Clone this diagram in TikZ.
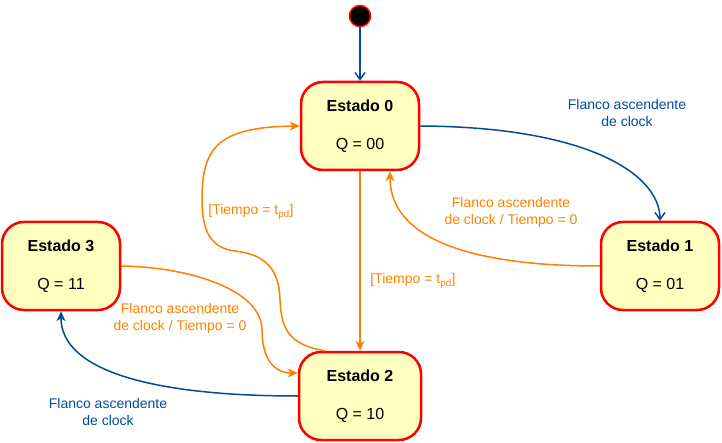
\documentclass[tikz,border=0pt]{standalone}
\usepackage{fontspec}
\setsansfont{Liberation Sans}
\usepackage{tikz}
\usetikzlibrary{positioning, arrows.meta}
\definecolor{stBlue}{RGB}{0, 76, 153}
\definecolor{stOrange}{RGB}{255, 128, 0}
\definecolor{stRed}{RGB}{255, 0, 0}
\definecolor{stYellow}{RGB}{255, 255, 192}
\tikzset{
    base/.style={
        font=\sffamily,
        align=center
    },
    stateBox/.style={
        base,
        rectangle,
        rounded corners=22pt,
        draw=stRed,
        line width=2.5pt,
        fill=stYellow,
        text=black,
        minimum width=118pt,
        minimum height=88pt,
        font=\sffamily\fontsize{16}{19}\selectfont
    },
    startDot/.style={
        circle,
        draw=stRed,
        line width=1.5pt,
        fill=black,
        inner sep=0pt,
        minimum size=21pt
    },
    flowBlue/.style={
        -{Straight Barb[length=7pt, width=10pt]},
        line width=1.5pt,
        color=stBlue
    },
    flowBlueTip/.style={
        -{Stealth[length=10pt, width=9pt, inset=3pt]},
        line width=1.5pt,
        color=stBlue
    },
    flowOrange/.style={
        -{Stealth[length=10pt, width=9pt, inset=3pt]},
        line width=1.5pt,
        color=stOrange
    },
    condBlue/.style={
        base,
        font=\sffamily\fontsize{14}{17}\selectfont,
        text=stBlue,
        inner sep=1pt
    },
    condOrange/.style={
        base,
        font=\sffamily\fontsize{14}{17}\selectfont,
        text=stOrange,
        inner sep=1pt
    }
}

\begin{document}
\begin{tikzpicture}[x=1pt, y=-1pt]
  \useasboundingbox (0,0) rectangle (722,443);

  % States
  \node[startDot] (init) at (360,16) {};
  \node[stateBox] (s0) at (360,126) {\textbf{Estado 0}\\[19pt]Q = 00};
  \node[stateBox] (s1) at (660,266) {\textbf{Estado 1}\\[19pt]Q = 01};
  \node[stateBox, minimum width=122pt] (s2) at (360,396) {\textbf{Estado 2}\\[19pt]Q = 10};
  \node[stateBox] (s3) at (61,266) {\textbf{Estado 3}\\[19pt]Q = 11};

  % Transitions
  \draw[flowBlue] (init) -- (s0);
  \draw[flowBlue] (s0.east) .. controls (590,127) and (660,175) .. (s1.north);
  \draw[flowOrange] (s1.west) .. controls (450,266) and (390,230) .. ([xshift=30pt]s0.south);
  \draw[flowOrange] (s0) -- (s2);
  \draw[flowOrange] ([xshift=-35pt]s2.north) .. controls (290,345) and (281,330) .. (280,300)
      .. controls (279,262) and (258,254) .. (235,251)
      .. controls (210,248) and (202,230) .. (202,200)
      .. controls (202,150) and (215,127) .. (s0.west);
  \draw[flowOrange] (s3.east) .. controls (190,267) and (262,290) .. (262,330)
      .. controls (262,360) and (275,373) .. ([yshift=23pt]s2.west);
  \draw[flowBlueTip] (s2.west) .. controls (150,396) and (61,370) .. (s3.south);

  % Conditions
  \node[condBlue] (c01) at (627,113) {Flanco ascendente\\de clock};
  \node[condOrange] (c10) at (511,212) {Flanco ascendente\\de clock / Tiempo = 0};
  \node[condOrange] (c02) at (413,281) {[Tiempo = t\textsubscript{pd}]};
  \node[condOrange] (c20) at (251,212) {[Tiempo = t\textsubscript{pd}]};
  \node[condOrange] (c32) at (180,318) {Flanco ascendente\\de clock / Tiempo = 0};
  \node[condBlue] (c23) at (108,412) {Flanco ascendente\\de clock};
\end{tikzpicture}
\end{document}
